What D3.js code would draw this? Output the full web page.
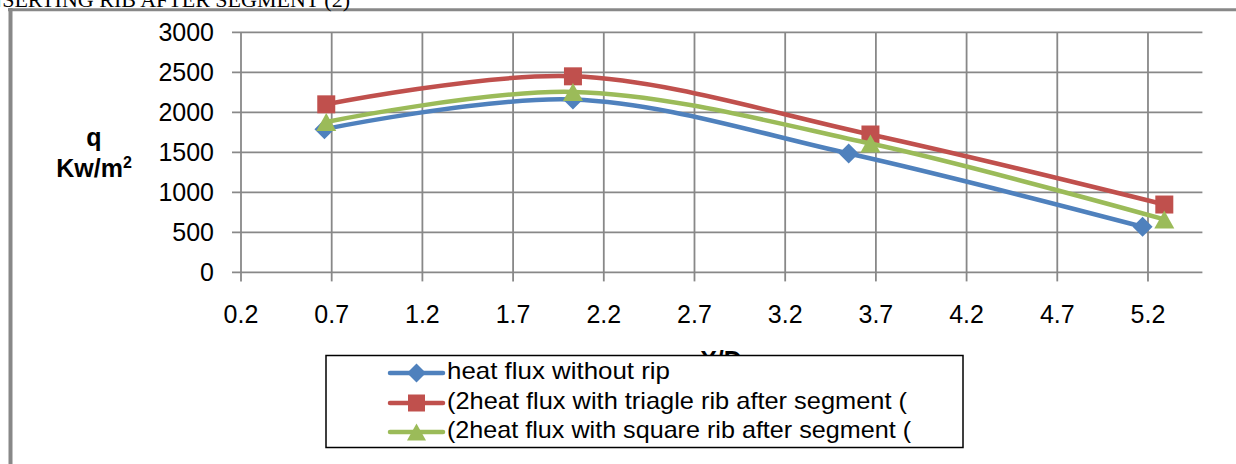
<!DOCTYPE html>
<meta charset="utf-8">
<html>
<style>
  body { margin: 0; background: #fff; }
  .grid line { stroke: #888; stroke-width: 1.8px; }
  .ticklab { font-family: Arial, "Liberation Sans", sans-serif; font-size: 25px; fill: #000; }
  .ytitle { font-family: Arial, "Liberation Sans", sans-serif; font-size: 25px; font-weight: bold; }
  .legtext { font-family: "Liberation Sans", Arial, sans-serif; font-size: 24px; }
</style>
<body>
<svg width="1236" height="464"></svg>
<script src="https://d3js.org/d3.v7.min.js"></script>
<script>

// data (x = X/D, q = Kw/m2)
var xBlue  = [0.66, 2.03, 3.55, 5.17];
var qBlue  = [1790, 2160, 1485, 570];
var xRed   = [0.67, 2.03, 3.67, 5.29];
var qRed   = [2100, 2450, 1723, 848];
var xGreen = [0.67, 2.03, 3.67, 5.29];
var qGreen = [1880, 2255, 1610, 662];

var seriesNames = [
  "heat flux without rip",
  "(2heat flux with triagle rib after segment (",
  "(2heat flux with square rib after segment ("
];
var xTicks = [0.2, 0.7, 1.2, 1.7, 2.2, 2.7, 3.2, 3.7, 4.2, 4.7, 5.2];
var yTicks = [0, 500, 1000, 1500, 2000, 2500, 3000];

var svg = d3.select("svg");

var x = d3.scaleLinear().domain([0.2, 5.5]).range([241, 1202.4]);
var y = d3.scaleLinear().domain([0, 3000]).range([272.4, 32.3]);

// outer frame (only top + left edges show)
svg.append("line").attr("x1", 8).attr("x2", 1236).attr("y1", 9.7).attr("y2", 9.7)
  .attr("stroke", "#888").attr("stroke-width", 3);
svg.append("line").attr("x1", 10.5).attr("x2", 10.5).attr("y1", 8).attr("y2", 464)
  .attr("stroke", "#888").attr("stroke-width", 4);

// caption, cut off at the top like the source
svg.append("text")
  .attr("x", 350).attr("y", 7)
  .attr("text-anchor", "end")
  .style("font-family", "'Liberation Serif', 'Times New Roman', serif")
  .style("font-size", "22px")
  .text("INSERTING RIB AFTER SEGMENT (2)");

// grid
var grid = svg.append("g").attr("class", "grid");
grid.selectAll(".h").data(yTicks).enter().append("line")
  .attr("x1", x(0.2) - 9).attr("x2", x(5.5))
  .attr("y1", function(d) { return y(d); })
  .attr("y2", function(d) { return y(d); });
grid.selectAll(".v").data(xTicks).enter().append("line")
  .attr("x1", function(d) { return x(d); })
  .attr("x2", function(d) { return x(d); })
  .attr("y1", y(3000)).attr("y2", y(0) + 9);

// tick labels
svg.selectAll(".ylab").data(yTicks).enter().append("text")
  .attr("class", "ticklab")
  .attr("x", 214).attr("y", function(d) { return y(d); })
  .attr("dy", "0.36em")
  .attr("text-anchor", "end")
  .text(function(d) { return d; });

svg.selectAll(".xlab").data(xTicks).enter().append("text")
  .attr("class", "ticklab")
  .attr("x", function(d) { return x(d); })
  .attr("y", 323)
  .attr("text-anchor", "middle")
  .text(function(d) { return d.toFixed(1); });

// y title
svg.append("text").attr("class", "ytitle")
  .attr("x", 94).attr("y", 146).attr("text-anchor", "middle").text("q");
var kw = svg.append("text").attr("class", "ytitle")
  .attr("x", 94).attr("y", 176.5).attr("text-anchor", "middle");
kw.append("tspan").text("Kw/m");
kw.append("tspan").attr("dy", -9).style("font-size", "16px").text("2");

// x title (mostly hidden behind the legend)
svg.append("text").attr("class", "ytitle")
  .attr("x", 721).attr("y", 369).attr("text-anchor", "middle").text("X/D");

// markers
function markerPath(kind, s) {
  var h = s / 2;
  if (kind === "diamond") return "M0," + (-h - 1) + "L" + (h + 1) + ",0L0," + (h + 1) + "L" + (-h - 1) + ",0Z";
  if (kind === "square") return "M" + (-h) + "," + (-h) + "h" + s + "v" + s + "h" + (-s) + "Z";
  return "M0," + (-h) + "L" + (h + 1) + "," + h + "L" + (-h - 1) + "," + h + "Z";
}

var series = [
  { name: seriesNames[0], xs: xBlue,  qs: qBlue,  color: "#4F81BD", marker: "diamond" },
  { name: seriesNames[1], xs: xRed,   qs: qRed,   color: "#C0504D", marker: "square" },
  { name: seriesNames[2], xs: xGreen, qs: qGreen, color: "#9BBB59", marker: "triangle" }
];

var line = d3.line()
  .x(function(d) { return x(d[0]); })
  .y(function(d) { return y(d[1]); })
  .curve(d3.curveCatmullRom.alpha(0.5));

series.forEach(function(s) {
  var pts = s.xs.map(function(v, i) { return [v, s.qs[i]]; });
  var g = svg.append("g");
  g.append("path").datum(pts)
    .attr("d", line)
    .attr("fill", "none")
    .attr("stroke", s.color)
    .attr("stroke-width", 4.5)
    .attr("stroke-linejoin", "round")
    .attr("stroke-linecap", "round");
  g.selectAll("path.mk").data(pts).enter().append("path")
    .attr("class", "mk")
    .attr("d", markerPath(s.marker, 18))
    .attr("fill", s.color)
    .attr("transform", function(d) { return "translate(" + x(d[0]) + "," + y(d[1]) + ")"; });
});

// legend
var leg = svg.append("g");
leg.append("rect")
  .attr("x", 326).attr("y", 355.5).attr("width", 637).attr("height", 92)
  .attr("fill", "#fff").attr("stroke", "#000").attr("stroke-width", 1.5);

var legY = [373, 403, 432];
var legBase = [379, 409, 438];
var legW = [223, 460, 464];

series.forEach(function(s, i) {
  leg.append("line")
    .attr("x1", 390).attr("x2", 443)
    .attr("y1", legY[i]).attr("y2", legY[i])
    .attr("stroke", s.color).attr("stroke-width", 4.5)
    .attr("stroke-linecap", "round");
  leg.append("path")
    .attr("d", markerPath(s.marker, 17))
    .attr("fill", s.color)
    .attr("transform", "translate(416.5," + legY[i] + ")");
  leg.append("text")
    .attr("class", "legtext")
    .attr("x", 447).attr("y", legBase[i])
    .attr("textLength", legW[i])
    .attr("lengthAdjust", "spacingAndGlyphs")
    .text(s.name);
});

</script>
</body>
</html>
